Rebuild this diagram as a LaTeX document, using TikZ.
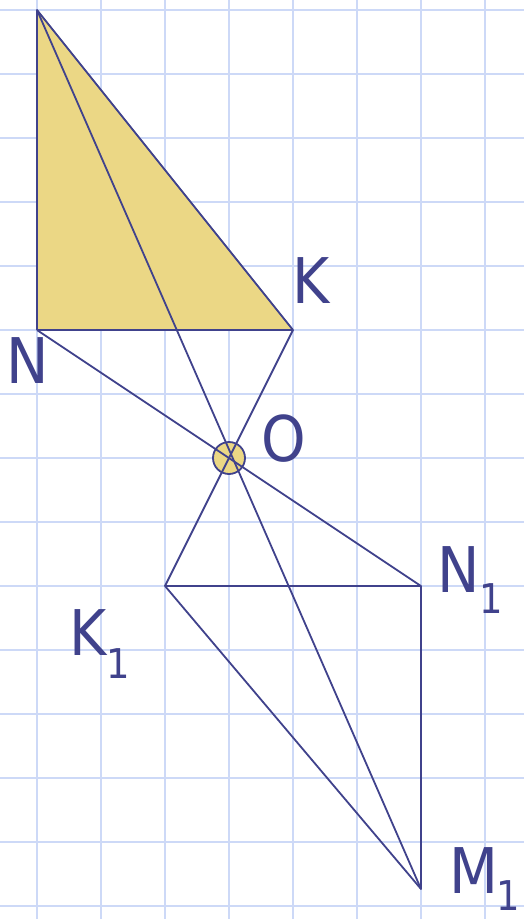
\documentclass[tikz,border=0pt]{standalone}
\usepackage{fontspec}
\setmainfont{DejaVu Sans}
\definecolor{gridc}{RGB}{205,217,247}
\definecolor{inkc}{RGB}{64,66,140}
\definecolor{fillc}{RGB}{235,215,133}
\tikzset{
  gridline/.style={draw=gridc, line width=2pt},
  segline/.style={draw=inkc, line width=1.8pt, line join=round},
  lab/.style={inner sep=0pt, outer sep=0pt, anchor=base west, text=inkc, font=\fontsize{63}{63}\selectfont}
}
\newcommand{\sq}[1]{\scalebox{0.9}[1]{#1}}
\newcommand{\subone}[1]{\raisebox{-#1pt}{\fontsize{41}{41}\selectfont 1}}
\begin{document}
\begin{tikzpicture}[x=1pt,y=-1pt]
\useasboundingbox (0,0) rectangle (524,919);
\fill[white] (0,0) rectangle (524,919);
% grid
\foreach \i in {0,...,7} { \draw[gridline] (37+64*\i,0) -- (37+64*\i,919); }
\foreach \j in {0,...,14} { \draw[gridline] (0,10+64*\j) -- (524,10+64*\j); }
% points
\coordinate (M) at (37,10);
\coordinate (N) at (37,330);
\coordinate (K) at (293,330);
\coordinate (O) at (229,458);
\coordinate (K1) at (165,586);
\coordinate (N1) at (421,586);
\coordinate (M1) at (421,889);
% filled triangle
\fill[fillc] (M) -- (N) -- (K) -- cycle;
\draw[segline] (N) -- (M) -- (K) -- (N);
% lower triangle
\draw[segline] (K1) -- (N1) -- (M1) -- cycle;
% centre circle
\node[circle, draw=inkc, fill=fillc, line width=1.8pt, minimum size=32pt, inner sep=0pt] (Oc) at (O) {};
% lines through O
\draw[segline] (M) -- (M1);
\draw[segline] (N) -- (N1);
\draw[segline] (K) -- (K1);
% labels
\node[lab] (Nl) at (6.4,383) {\sq{N}};
\node[lab] (Kl) at (292.4,303) {\sq{K}};
\node[lab] (Ol) at (261,461) {\sq{O}};
\node[lab] (N1l) at (437.4,592) {\sq{N\subone{21}}};
\node[lab] (K1l) at (69.4,655) {\sq{K\subone{23}}};
\node[lab] (M1l) at (449,893) {\sq{M\hspace{-2pt}\subone{17}}};
\end{tikzpicture}
\end{document}
